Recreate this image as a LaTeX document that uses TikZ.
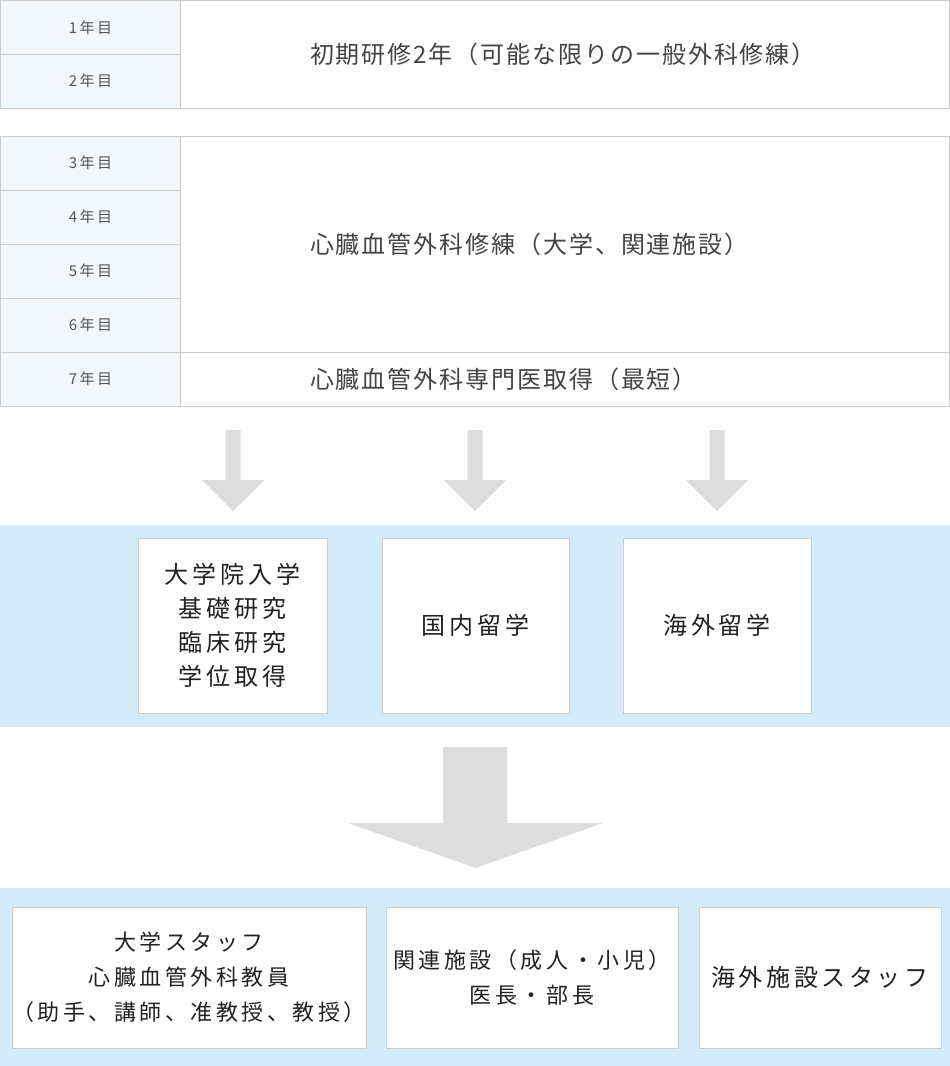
\documentclass[tikz,border=0pt]{standalone}
\usepackage{fontspec}
\setmainfont{Noto Sans CJK JP}[Kerning=Off]
\definecolor{rulegray}{HTML}{CCCCCC}
\definecolor{yearfill}{HTML}{F2F7FB}
\definecolor{yeartext}{HTML}{555555}
\definecolor{stagetext}{HTML}{444444}
\definecolor{boxtext}{HTML}{222222}
\definecolor{bandblue}{HTML}{D4EBF9}
\definecolor{arrowgray}{HTML}{DDDDDD}

\begin{document}
\begin{tikzpicture}[x=1pt, y=-1pt,
    year/.style={draw=rulegray, fill=yearfill, line width=1pt, minimum width=180pt, minimum height=54pt, inner sep=0pt, text=yeartext, font=\fontsize{15}{18}\selectfont\addfontfeature{LetterSpace=16}},
    stage/.style={draw=rulegray, fill=white, line width=1pt, minimum width=769pt, inner sep=0pt, text width=509pt, align=left, text=stagetext, font=\fontsize{24}{28}\selectfont\addfontfeature{LetterSpace=8}},
    choice/.style={draw=rulegray, fill=white, line width=1pt, minimum height=175pt, inner sep=0pt, align=center, text=boxtext, font=\fontsize{24}{34}\selectfont\addfontfeature{LetterSpace=16}},
    career/.style={choice, minimum height=141pt},
    blockarrow/.style={fill=arrowgray}
  ]
    \useasboundingbox (0,0) rectangle (950,1066);
    % first table
    \node[stage, minimum height=108pt] (s1) at (564.5,54) {初期研修2年（可能な限りの一般外科修練）};
    \node[year] (y1) at (90.5,27.5) {1年目};
    \node[year] (y2) at (90.5,81) {2年目};
    % second table
    \node[stage, minimum height=216pt] (s2) at (564.5,244) {心臓血管外科修練（大学、関連施設）};
    \node[stage, minimum height=54pt] (s3) at (564.5,379) {心臓血管外科専門医取得（最短）};
    \node[year] (y3) at (90.5,163) {3年目};
    \node[year] (y4) at (90.5,217) {4年目};
    \node[year] (y5) at (90.5,271) {5年目};
    \node[year] (y6) at (90.5,325) {6年目};
    \node[year] (y7) at (90.5,379) {7年目};
    % arrows down to the choices
    \fill[blockarrow] (233,511) -- ++(-31,-31) -- ++(23.5,0) -- ++(0,-50) -- ++(15,0) -- ++(0,50) -- ++(23.5,0) -- cycle;
    \fill[blockarrow] (475,511) -- ++(-31,-31) -- ++(23.5,0) -- ++(0,-50) -- ++(15,0) -- ++(0,50) -- ++(23.5,0) -- cycle;
    \fill[blockarrow] (717,511) -- ++(-31,-31) -- ++(23.5,0) -- ++(0,-50) -- ++(15,0) -- ++(0,50) -- ++(23.5,0) -- cycle;
    \fill[bandblue] (0,525) rectangle (950,727);
    \node[choice, minimum width=189pt] (c1) at (232.5,625.5) {大学院入学\\基礎研究\\臨床研究\\学位取得};
    \node[choice, minimum width=187pt] (c2) at (475.5,625.5) {国内留学};
    \node[choice, minimum width=188pt] (c3) at (717,625.5) {海外留学};
    % big arrow
    \fill[blockarrow] (475.5,868) -- (348,823) -- (443,823) -- (443,747) -- (507,747) -- (507,823) -- (603,823) -- cycle;
    \fill[bandblue] (0,888) rectangle (950,1066);
    \node[career, minimum width=354pt, font=\fontsize{22}{35}\selectfont\addfontfeature{LetterSpace=16}] (k1) at (189,977.5) {大学スタッフ\\心臓血管外科教員\\（助手、講師、准教授、教授）};
    \node[career, minimum width=292pt, font=\fontsize{22}{35}\selectfont\addfontfeature{LetterSpace=16}] (k2) at (532,977.5) {関連施設（成人・小児）\\医長・部長};
    \node[career, minimum width=242pt, font=\fontsize{24}{35}\selectfont\addfontfeature{LetterSpace=15}] (k3) at (820,977.5) {海外施設スタッフ};
  \end{tikzpicture}
\end{document}
